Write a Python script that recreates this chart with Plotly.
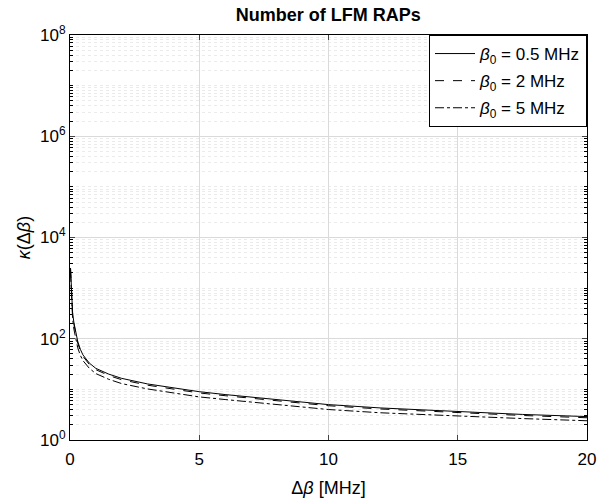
import plotly.graph_objects as go

delta_beta = [0.02, 0.05, 0.1, 0.15, 0.2, 0.3, 0.4, 0.5, 0.75, 1, 1.5, 2, 3, 4, 5, 6, 8, 10, 12, 15, 17.5, 20]
kappa_05 = [2500, 900, 330, 210, 150, 88, 62, 48, 33, 26, 20, 16.5, 12.8, 10.8, 9.0, 7.9, 6.2, 5.0, 4.3, 3.6, 3.2, 2.9]
kappa_2 = [2400, 860, 310, 195, 140, 82, 58, 45, 31, 24.5, 18.8, 15.5, 12.1, 10.2, 8.5, 7.5, 5.9, 4.75, 4.1, 3.45, 3.05, 2.75]
kappa_5 = [2000, 700, 250, 155, 110, 66, 47, 37, 26, 20.5, 15.8, 13.0, 10.2, 8.6, 7.1, 6.3, 4.95, 4.0, 3.45, 2.95, 2.65, 2.4]

names = ["<i>β</i><sub>0</sub> = 0.5 MHz", "<i>β</i><sub>0</sub> = 2 MHz", "<i>β</i><sub>0</sub> = 5 MHz"]
dashes = ["solid", "dash", "dashdot"]
series = [kappa_05, kappa_2, kappa_5]

y_tickvals = [1, 1e2, 1e4, 1e6, 1e8]
y_ticktext = ["10<sup>0</sup>", "10<sup>2</sup>", "10<sup>4</sup>", "10<sup>6</sup>", "10<sup>8</sup>"]
x_tickvals = [0, 5, 10, 15, 20]

minor_vals = []
for k in range(0, 8):
    for m in range(2, 11):
        minor_vals.append(m * 10 ** k)

fig = go.Figure()
for i, (ys, nm, ds) in enumerate(zip(series, names, dashes)):
    fig.add_trace(go.Scatter(x=delta_beta, y=ys, mode="lines", name=nm, legendgroup=f"g{i}",
                             line=dict(color="black", width=1, dash=ds)))

font_family = "Liberation Sans, Arial, sans-serif"
fig.update_layout(
    width=598, height=500,
    margin=dict(l=70, r=11, t=35, b=60, autoexpand=False),
    paper_bgcolor="white", plot_bgcolor="white",
    font=dict(family=font_family, color="black", size=17),
    title=dict(text="<b>Number of LFM RAPs</b>", x=0.549, xanchor="center", y=0.97, yanchor="middle",
               font=dict(size=18, color="black")),
    showlegend=True,
    legend=dict(x=1, y=1, xanchor="right", yanchor="top", bgcolor="white",
                bordercolor="black", borderwidth=1, font=dict(size=17),
                tracegroupgap=2, itemwidth=40),
    xaxis=dict(range=[0, 20], tickvals=x_tickvals, ticks="inside", ticklen=5,
               showline=True, linecolor="black", linewidth=1, mirror="ticks",
               showgrid=True, gridcolor="#dadada", gridwidth=1, zeroline=False,
               automargin=False, ticklabelstandoff=4,
               title=dict(text="Δ<i>β</i> [MHz]", font=dict(size=18), standoff=12),
               tickfont=dict(size=17)),
    yaxis=dict(type="log", range=[0, 8], tickmode="array", tickvals=y_tickvals, ticktext=y_ticktext,
               ticks="inside", ticklen=5,
               showline=True, linecolor="black", linewidth=1, mirror="ticks",
               showgrid=True, gridcolor="#dadada", gridwidth=1, zeroline=False,
               automargin=False,
               minor=dict(tickmode="array", tickvals=minor_vals, ticks="inside", ticklen=3,
                          tickcolor="black", showgrid=True, gridcolor="#ebebeb", griddash="dot"),
               title=dict(text="<i>κ</i>(Δ<i>β</i>)", font=dict(size=18), standoff=4),
               tickfont=dict(size=17)),
)

fig.write_html("out.html", config={"displayModeBar": False},
               post_script="document.body.style.margin='0';document.body.style.padding='0';")
